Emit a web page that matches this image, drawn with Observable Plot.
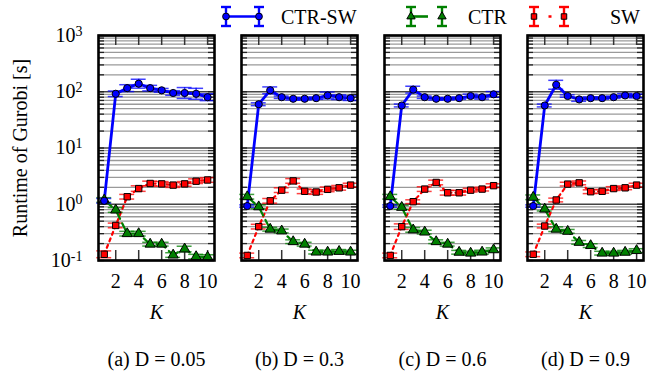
<!DOCTYPE html>
<html><head><meta charset="utf-8">
<script src="https://cdn.jsdelivr.net/npm/d3@7"></script>
<script src="https://cdn.jsdelivr.net/npm/@observablehq/plot@0.6"></script>
<style>
body{margin:0;background:#fff;}
#wrap{position:relative;width:662px;height:373px;font-family:'Liberation Serif';}
#wrap svg text{font-family:'Liberation Serif' !important;}
#legend{position:absolute;left:0;top:0;}
</style></head><body>
<div id="wrap"><div id="chart"></div><svg id="legend" width="662" height="34"></svg></div>
<script>
// ---- data ----
const K = [1,2,3,4,5,6,7,8,9,10];
const panels = ["0.05","0.3","0.6","0.9"];
const captions = ["(a) D = 0.05","(b) D = 0.3","(c) D = 0.6","(d) D = 0.9"];
const seriesNames = ["CTR-SW","CTR","SW"];
const seriesColors = ["#0000ff","#008000","#ff0000"];
const seriesSymbols = ["circle","triangle","square"];
const seriesDash = [null,"10,5","3,4"];

const ctrswA = [1.15, 92, 116, 139, 116, 106, 95, 95, 92, 80];
const ctrA   = [1.19, 0.79, 0.30, 0.30, 0.195, 0.195, 0.125, 0.16, 0.117, 0.115];
const swA    = [0.129, 0.42, 1.36, 1.9, 2.34, 2.3, 2.19, 2.3, 2.57, 2.7];
const ctrswB = [0.93, 60, 106, 80, 75, 75, 77, 86, 80, 77];
const ctrB   = [1.36, 0.90, 0.36, 0.335, 0.216, 0.195, 0.141, 0.141, 0.145, 0.141];
const swB    = [0.123, 0.40, 1.15, 1.78, 2.6, 1.7, 1.65, 1.84, 1.96, 2.19];
const ctrswC = [0.93, 57, 109, 80, 75, 75, 77, 84, 80, 90];
const ctrC   = [1.36, 0.88, 0.35, 0.32, 0.216, 0.195, 0.14, 0.135, 0.141, 0.155];
const swC    = [0.123, 0.40, 1.11, 1.86, 2.44, 1.6, 1.6, 1.78, 1.86, 2.14];
const ctrswD = [0.93, 57, 133, 84, 73, 77, 77, 80, 86, 84];
const ctrD   = [1.33, 0.82, 0.36, 0.33, 0.21, 0.184, 0.135, 0.135, 0.14, 0.15];
const swD    = [0.129, 0.41, 1.19, 2.28, 2.4, 1.67, 1.7, 1.9, 1.96, 2.19];

// multiplicative error-bar spread (upper = v*f, lower = v/f)
const errCtrswA = [1.1, 1.12, 1.15, 1.2, 1.12, 1.08, 1.1, 1.25, 1.25, 1.15];
const errCtrA   = [1.1, 1.1, 1.1, 1.1, 1.08, 1.08, 1.1, 1.12, 1.1, 1.1];
const errSwA    = [1.15, 1.1, 1.1, 1.12, 1.1, 1.1, 1.1, 1.1, 1.1, 1.1];
const errCtrswB = [1.05, 1.06, 1.15, 1.05, 1.05, 1.05, 1.05, 1.15, 1.1, 1.1];
const errCtrB   = [1.1, 1.08, 1.08, 1.08, 1.08, 1.08, 1.08, 1.08, 1.08, 1.08];
const errSwB    = [1.1, 1.1, 1.1, 1.1, 1.1, 1.1, 1.1, 1.1, 1.1, 1.08];
const errCtrswC = [1.05, 1.06, 1.15, 1.05, 1.05, 1.05, 1.05, 1.08, 1.08, 1.12];
const errCtrC   = [1.1, 1.08, 1.1, 1.08, 1.08, 1.08, 1.08, 1.08, 1.08, 1.08];
const errSwC    = [1.1, 1.12, 1.08, 1.1, 1.1, 1.1, 1.1, 1.08, 1.08, 1.08];
const errCtrswD = [1.05, 1.06, 1.2, 1.05, 1.08, 1.05, 1.05, 1.05, 1.08, 1.08];
const errCtrD   = [1.1, 1.08, 1.1, 1.08, 1.08, 1.08, 1.08, 1.08, 1.08, 1.08];
const errSwD    = [1.1, 1.08, 1.08, 1.08, 1.08, 1.08, 1.08, 1.08, 1.08, 1.08];

const yTicks = [0.1, 1, 10, 100, 1000];
const yTickLabels = ["10^-1","10^0","10^1","10^2","10^3"];
const xTicks = [2,4,6,8,10];

// ---- table ----
const values = [[ctrswA,ctrA,swA],[ctrswB,ctrB,swB],[ctrswC,ctrC,swC],[ctrswD,ctrD,swD]];
const errs = [[errCtrswA,errCtrA,errSwA],[errCtrswB,errCtrB,errSwB],[errCtrswC,errCtrC,errSwC],[errCtrswD,errCtrD,errSwD]];
const rows = [];
panels.forEach((D,p)=>seriesNames.forEach((s,si)=>K.forEach((k,i)=>{
  const v = values[p][si][i], f = errs[p][si][i];
  rows.push({D, series:s, si, K:k, v, lo:v/f, hi:v*f});
})));
const capRows = panels.map((D,i)=>({D, text:captions[i]}));

// grid values (log ticks)
const gridMinor = [], gridMajor = yTicks;
for (let e=-1; e<3; e++) for (let m=2; m<10; m++) gridMinor.push(m*Math.pow(10,e));
const allGrid = gridMajor.concat(gridMinor);

const seriesMarks = [];
[2,1,0].forEach(si=>{
  const data = rows.filter(r=>r.si===si);
  const col = seriesColors[si];
  seriesMarks.push(
    Plot.ruleX(data,{fx:"D", x:"K", y1:"lo", y2:"hi", stroke:col, strokeWidth:1.5, strokeOpacity:0.75}),
    Plot.ruleY(data,{fx:"D", y:"lo", x1:d=>d.K-0.65, x2:d=>d.K+0.65, stroke:col, strokeWidth:1.5, strokeOpacity:0.75}),
    Plot.ruleY(data,{fx:"D", y:"hi", x1:d=>d.K-0.65, x2:d=>d.K+0.65, stroke:col, strokeWidth:1.5, strokeOpacity:0.75}),
    Plot.line(data,{fx:"D", x:"K", y:"v", z:"D", stroke:col, strokeWidth: si===0?2.8:2.2, strokeDasharray: seriesDash[si]||undefined})
  );
});
[2,1,0].forEach(si=>{
  const data = rows.filter(r=>r.si===si);
  seriesMarks.push(Plot.dot(data,{fx:"D", x:"K", y:"v", symbol:()=>seriesSymbols[si], r: si===1?3.8:3.6, fill:seriesColors[si], stroke:"black", strokeWidth:1}));
});

const FONT = "Liberation Serif";
const chart = Plot.plot({
  width:662, height:373,
  marginLeft:97, marginRight:19, marginTop:35, marginBottom:113,
  style:{fontFamily:FONT, fontSize:"20px", background:"white", color:"black"},
  x:{domain:[0.5,10.6], ticks:xTicks, tickSize:0, tickPadding:13, label:null},
  y:{type:"log", domain:[0.1,1000], ticks:yTicks, tickFormat:d=>yTickLabels[yTicks.indexOf(d)], tickSize:0, tickPadding:16,
     label:"Runtime of Gurobi [s]", labelAnchor:"center", labelOffset:86, labelArrow:"none"},
  fx:{domain:panels, paddingInner:0.19, paddingOuter:0, axis:null, label:null},
  symbol:{domain:seriesSymbols, range:seriesSymbols},
  marks:[
    Plot.ruleY(gridMinor,{stroke:"#9a9a9a", strokeWidth:1.3}),
    Plot.ruleY(gridMajor,{stroke:"#444", strokeWidth:1.5}),
    Plot.ruleY(allGrid,{insetRight:110, stroke:"#222", strokeWidth:1.3}),
    Plot.ruleY(allGrid,{insetLeft:110, stroke:"#222", strokeWidth:1.3}),
    Plot.ruleX(xTicks,{insetBottom:215, stroke:"#333", strokeWidth:1.5}),
    Plot.ruleX(xTicks,{insetTop:215, stroke:"#333", strokeWidth:1.5}),
    ...seriesMarks,
    Plot.frame({stroke:"black", strokeWidth:2.6}),
    Plot.text(["K"],{frameAnchor:"bottom", dy:52, lineAnchor:"middle", fontStyle:"italic", fontSize:20}),
    Plot.text(capRows,{fx:"D", text:"text", frameAnchor:"bottom", dy:99, lineAnchor:"middle", fontSize:20, ariaLabel:"caption"})
  ]
});
document.getElementById("chart").appendChild(chart);

// superscripts on y tick labels
d3.select(chart).selectAll('g[aria-label="y-axis tick label"] text').each(function(){
  const t = d3.select(this); const s = t.text(); const [base, exp] = s.split("^");
  t.text(null);
  t.append("tspan").text(base);
  t.append("tspan").attr("dy","-0.45em").attr("font-size","14px").text(exp);
});
// italic D in captions
d3.select(chart).selectAll('g[aria-label="caption"] text').each(function(){
  const t = d3.select(this); const s = t.text();
  const m = s.match(/^(\(\w\) )D( = .*)$/);
  if (!m) return;
  t.text(null);
  t.append("tspan").text(m[1]);
  t.append("tspan").attr("font-style","italic").text("D");
  t.append("tspan").text(m[2]);
});
// wrap plain texts in tspans too
d3.select(chart).selectAll("text").each(function(){
  if (this.children.length === 0) {
    const t = d3.select(this); const s = t.text();
    t.text(null); t.append("tspan").text(s);
  }
});
// force font on every svg text
d3.select(chart).selectAll("g, text, tspan").attr("font-family", FONT);
d3.select(chart).selectAll("text, tspan").style("font-family", FONT);

// ---- legend ----
const lg = d3.select("#legend");
const legendItems = [
  {x1:226, x2:259, tx:281},
  {x1:411, x2:442, tx:468},
  {x1:534, x2:564, tx:610}
];
const cy = 16.5;
legendItems.forEach((it,si)=>{
  const col = seriesColors[si];
  const g = lg.append("g");
  g.append("line").attr("x1",it.x1).attr("x2",it.x2).attr("y1",cy).attr("y2",cy)
    .attr("stroke",col).attr("stroke-width",2.6)
    .attr("stroke-dasharray", si===1?"17,40": si===2?"3,11.5,3,40":null);
  [it.x1,it.x2].forEach(x=>{
    g.append("line").attr("x1",x).attr("x2",x).attr("y1",7).attr("y2",26).attr("stroke",col).attr("stroke-width",2.4);
    g.append("line").attr("x1",x-5).attr("x2",x+5).attr("y1",7).attr("y2",7).attr("stroke",col).attr("stroke-width",2.4);
    g.append("line").attr("x1",x-5).attr("x2",x+5).attr("y1",26).attr("y2",26).attr("stroke",col).attr("stroke-width",2.4);
    const sym = {circle:d3.symbolCircle, triangle:d3.symbolTriangle, square:d3.symbolSquare}[seriesSymbols[si]];
    g.append("path").attr("d", d3.symbol(sym, si===0?36:30)()).attr("transform",`translate(${x},${cy})`)
      .attr("fill",col).attr("stroke","black").attr("stroke-width",1);
  });
  const tx = g.append("text").attr("x",it.tx).attr("y",cy+7).attr("font-size","20px")
    .attr("font-family",FONT).style("font-family",FONT);
  tx.append("tspan").attr("font-family",FONT).style("font-family",FONT).text(seriesNames[si]);
});
</script>
</body></html>
